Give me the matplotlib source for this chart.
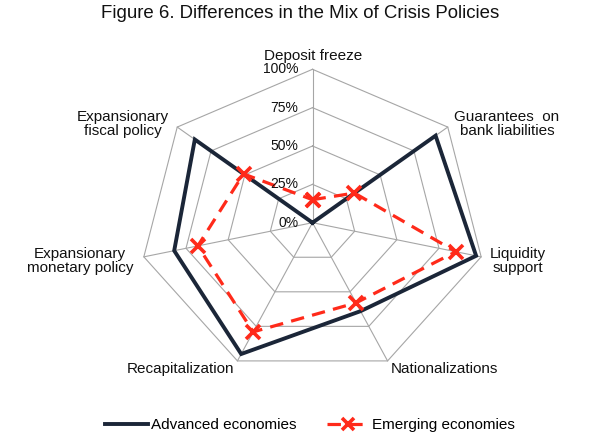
import numpy as np
import matplotlib
matplotlib.use("Agg")
import matplotlib.pyplot as plt

categories = ["Deposit freeze", "Guarantees  on\nbank liabilities", "Liquidity\nsupport",
              "Nationalizations", "Recapitalization", "Expansionary\nmonetary policy",
              "Expansionary\nfiscal policy"]
advanced = [0.0, 0.91, 0.97, 0.64, 0.95, 0.82, 0.87]
emerging = [0.15, 0.31, 0.85, 0.58, 0.79, 0.68, 0.51]
ring_levels = [0.25, 0.5, 0.75, 1.0]
ring_labels = ["0%", "25%", "50%", "75%", "100%"]
title = "Figure 6. Differences in the Mix of Crisis Policies"

plt.rcParams["font.family"] = ["Liberation Sans", "DejaVu Sans"]
W, H = 590, 440
fig = plt.figure(figsize=(W / 100, H / 100), dpi=100)

def px(x, y):
    return x / W, 1 - y / H

cx, cy, rx, ry = 312.5, 222.7, 173, 153.4
ax = fig.add_axes([(cx - rx) / W, 1 - (cy + ry) / H, 2 * rx / W, 2 * ry / H],
                  projection="polar")
ax.set_aspect("auto")
ax.set_theta_zero_location("N")
ax.set_theta_direction(-1)
ax.set_ylim(0, 1)
ax.grid(False)
ax.spines["polar"].set_visible(False)
ax.set_xticks([])
ax.set_yticks([])
ax.patch.set_visible(False)

n = len(categories)
angles = np.arange(n) * 2 * np.pi / n
closed = np.append(angles, angles[0])

gcol = "#a6a6a6"
for lev in ring_levels:
    ax.plot(closed, [lev] * (n + 1), color=gcol, lw=0.8, clip_on=False, zorder=1)
for a in angles:
    ax.plot([a, a], [0, 1], color=gcol, lw=0.8, clip_on=False, zorder=1)

adv_line, = ax.plot(closed, advanced + advanced[:1], color="#1b2638", lw=2.8,
                    solid_joinstyle="miter", clip_on=False, zorder=3,
                    label="Advanced economies")
em_line, = ax.plot(closed, emerging + emerging[:1], color="#ff2a1a", lw=2.3,
                   linestyle=(0, (4.2, 2.6)), marker="x", markersize=10,
                   markeredgewidth=2.6, clip_on=False, zorder=4,
                   label="Emerging economies")

levels_all = [0.0] + ring_levels
for lev, lab in zip(levels_all, ring_labels):
    ax.annotate(lab, xy=(0, lev), xytext=(-10, 0), textcoords="offset points",
                ha="right", va="center", fontsize=10, color="#111111", zorder=5)

label_pos = [(313, 56), (507, 124), (518, 261), (444, 369), (180, 369),
             (80, 261), (123, 124)]
for lab, (x, y) in zip(categories, label_pos):
    fig.text(*px(x, y), lab, ha="center", va="center", fontsize=11,
             linespacing=1.0, color="#111111")

fig.text(*px(300, 13), title, ha="center", va="center", fontsize=13.4,
         color="#111111")

fig.legend(handles=[adv_line, em_line], loc="center",
           bbox_to_anchor=px(310, 425), ncol=2, frameon=False, fontsize=11,
           handlelength=2.85, handletextpad=0.15, columnspacing=2.0,
           numpoints=1, markerscale=0.85)

fig.savefig("out.png", dpi=100)
